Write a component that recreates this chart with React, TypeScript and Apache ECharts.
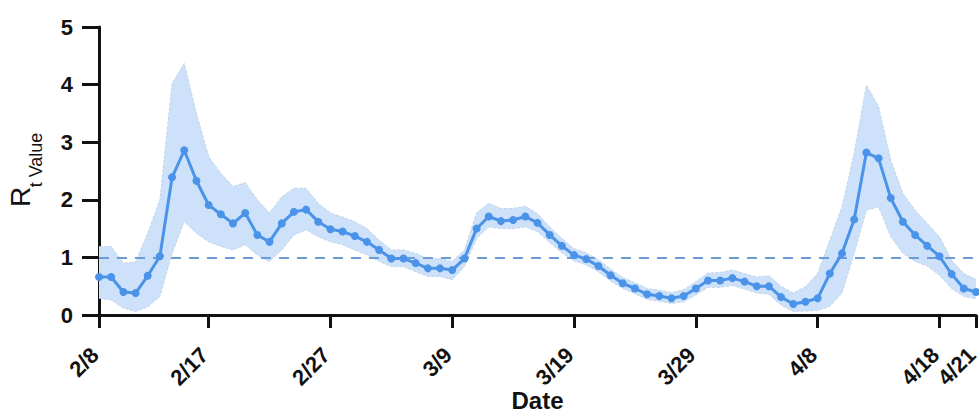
import React, { useEffect, useRef } from "react";
import * as echarts from "echarts";

// Daily dates 2/8 .. 4/21 (index 0..72)
const startMonth = 2;
const startDay = 8;
const dayCount = 73;
const tickIndex = [0, 9, 19, 29, 39, 49, 59, 69, 72];
const tickLabels = ["2/8", "2/17", "2/27", "3/9", "3/19", "3/29", "4/8", "4/18", "4/21"];

const rtMean = [
  0.66, 0.66, 0.40, 0.38, 0.68, 1.02, 2.39, 2.86, 2.33, 1.91,
  1.75, 1.59, 1.77, 1.39, 1.27, 1.59, 1.79, 1.83, 1.62, 1.49,
  1.45, 1.37, 1.27, 1.13, 0.98, 0.98, 0.90, 0.81, 0.81, 0.78,
  0.98, 1.50, 1.71, 1.63, 1.65, 1.71, 1.60, 1.39, 1.20, 1.04,
  0.97, 0.85, 0.69, 0.55, 0.46, 0.36, 0.33, 0.29, 0.33, 0.46,
  0.60, 0.60, 0.64, 0.58, 0.50, 0.50, 0.31, 0.19, 0.23, 0.29,
  0.72, 1.07, 1.66, 2.82, 2.72, 2.03, 1.62, 1.39, 1.20, 1.02,
  0.71, 0.46, 0.40,
];

const rtUpper = [
  1.19, 1.19, 0.90, 0.92, 1.42, 2.00, 4.02, 4.37, 3.50, 2.75,
  2.46, 2.23, 2.30, 2.00, 1.77, 2.05, 2.20, 2.20, 1.94, 1.77,
  1.70, 1.62, 1.50, 1.30, 1.13, 1.13, 1.07, 0.98, 0.98, 0.93,
  1.13, 1.77, 1.94, 1.85, 1.85, 1.89, 1.76, 1.53, 1.33, 1.15,
  1.08, 0.96, 0.80, 0.65, 0.56, 0.46, 0.43, 0.39, 0.44, 0.58,
  0.73, 0.74, 0.78, 0.72, 0.66, 0.68, 0.50, 0.38, 0.49, 0.72,
  1.30, 1.88, 2.81, 3.99, 3.62, 2.69, 2.11, 1.82, 1.59, 1.36,
  0.95, 0.72, 0.62,
];

const rtLower = [
  0.29, 0.26, 0.12, 0.06, 0.14, 0.32, 1.07, 1.62, 1.42, 1.27,
  1.19, 1.13, 1.22, 1.04, 0.93, 1.13, 1.39, 1.48, 1.36, 1.27,
  1.22, 1.13, 1.04, 0.93, 0.84, 0.84, 0.75, 0.67, 0.67, 0.61,
  0.84, 1.33, 1.53, 1.50, 1.50, 1.53, 1.45, 1.26, 1.08, 0.94,
  0.87, 0.75, 0.59, 0.46, 0.37, 0.27, 0.24, 0.20, 0.23, 0.35,
  0.48, 0.48, 0.51, 0.45, 0.38, 0.36, 0.17, 0.06, 0.07, 0.08,
  0.15, 0.38, 1.07, 1.82, 1.88, 1.36, 1.07, 0.93, 0.85, 0.69,
  0.46, 0.32, 0.28,
];

const threshold = 1;

const FONT = "'Liberation Sans', Arial, Helvetica, sans-serif";

function buildDates(): string[] {
  const out: string[] = [];
  const d = new Date(2021, startMonth - 1, startDay);
  for (let i = 0; i < dayCount; i++) {
    out.push(`${d.getMonth() + 1}/${d.getDate()}`);
    d.setDate(d.getDate() + 1);
  }
  return out;
}

export default function App() {
  const ref = useRef<HTMLDivElement>(null);

  useEffect(() => {
    if (!ref.current) return;
    const chart = echarts.init(ref.current, undefined, { renderer: "svg" });

    const dates = buildDates();
    const bandData = rtUpper.map((v, i) => +(v - rtLower[i]).toFixed(3));
    const showIdx = (i: number) => tickIndex.indexOf(i) >= 0;

    chart.setOption({
      animation: false,
      backgroundColor: "#ffffff",
      grid: {
        left: 99,
        right: 3,
        top: 27,
        bottom: 97,
        containLabel: false,
        outerBoundsMode: "none",
      },
      xAxis: {
        type: "category",
        data: dates,
        boundaryGap: false,
        name: "Date",
        nameLocation: "middle",
        nameGap: 73,
        nameMoveOverlap: false,
        nameTextStyle: {
          fontFamily: FONT,
          fontWeight: "bold",
          fontSize: 24,
          lineHeight: 24,
          color: "#111",
        },
        splitLine: { show: false },
        axisLine: { show: true, onZero: false, lineStyle: { color: "#111", width: 3 } },
        axisTick: {
          show: true,
          inside: false,
          length: 13,
          alignWithLabel: true,
          interval: (i: number) => showIdx(i),
          lineStyle: { color: "#111", width: 3 },
        },
        axisLabel: {
          interval: (i: number) => showIdx(i),
          hideOverlap: false,
          rotate: 45,
          margin: 32,
          padding: [0, 6, 0, 0],
          fontFamily: FONT,
          fontWeight: "bold",
          fontSize: 22,
          color: "#111",
          formatter: (v: string, i: number) => {
            const k = tickIndex.indexOf(i);
            return k >= 0 ? tickLabels[k] : v;
          },
        },
      },
      yAxis: {
        type: "value",
        min: 0,
        max: 5,
        interval: 1,
        splitLine: { show: false },
        axisLine: { show: true, lineStyle: { color: "#111", width: 3 } },
        axisTick: { show: true, inside: false, length: 17, lineStyle: { color: "#111", width: 3 } },
        axisLabel: {
          margin: 26,
          fontFamily: FONT,
          fontWeight: "bold",
          fontSize: 22,
          color: "#111",
        },
      },
      graphic: [
        {
          type: "text",
          x: 20,
          y: 197,
          rotation: Math.PI / 2,
          style: {
            text: "R",
            fontFamily: FONT,
            fontSize: 28,
            fill: "#111",
            align: "center",
            verticalAlign: "middle",
          },
        },
        {
          type: "text",
          x: 36,
          y: 160,
          rotation: Math.PI / 2,
          style: {
            text: "t Value",
            fontFamily: FONT,
            fontSize: 18,
            fill: "#111",
            align: "center",
            verticalAlign: "middle",
          },
        },
      ],
      series: [
        {
          name: "lower",
          type: "line",
          stack: "band",
          data: rtLower,
          symbol: "none",
          lineStyle: { color: "#b9cde3", width: 0.8, type: "dashed" },
          silent: true,
          z: 1,
        },
        {
          name: "band",
          type: "line",
          stack: "band",
          data: bandData,
          symbol: "none",
          lineStyle: { color: "#b9cde3", width: 0.8, type: "dashed" },
          areaStyle: { color: "#cde2fa", opacity: 1 },
          silent: true,
          z: 1,
        },
        {
          name: "Rt",
          type: "line",
          data: rtMean,
          symbol: "circle",
          symbolSize: 8,
          itemStyle: { color: "#4a93e8" },
          lineStyle: { color: "#4a93e8", width: 3 },
          z: 3,
          markLine: {
            silent: true,
            symbol: "none",
            label: { show: false },
            lineStyle: { color: "#6b9cd6", width: 2, type: [10, 8] },
            data: [{ yAxis: threshold }],
            z: 2,
          },
        },
      ],
    });

    return () => chart.dispose();
  }, []);

  return (
    <div
      ref={ref}
      style={{ position: "absolute", left: 0, top: 0, width: 979, height: 412 }}
    />
  );
}
